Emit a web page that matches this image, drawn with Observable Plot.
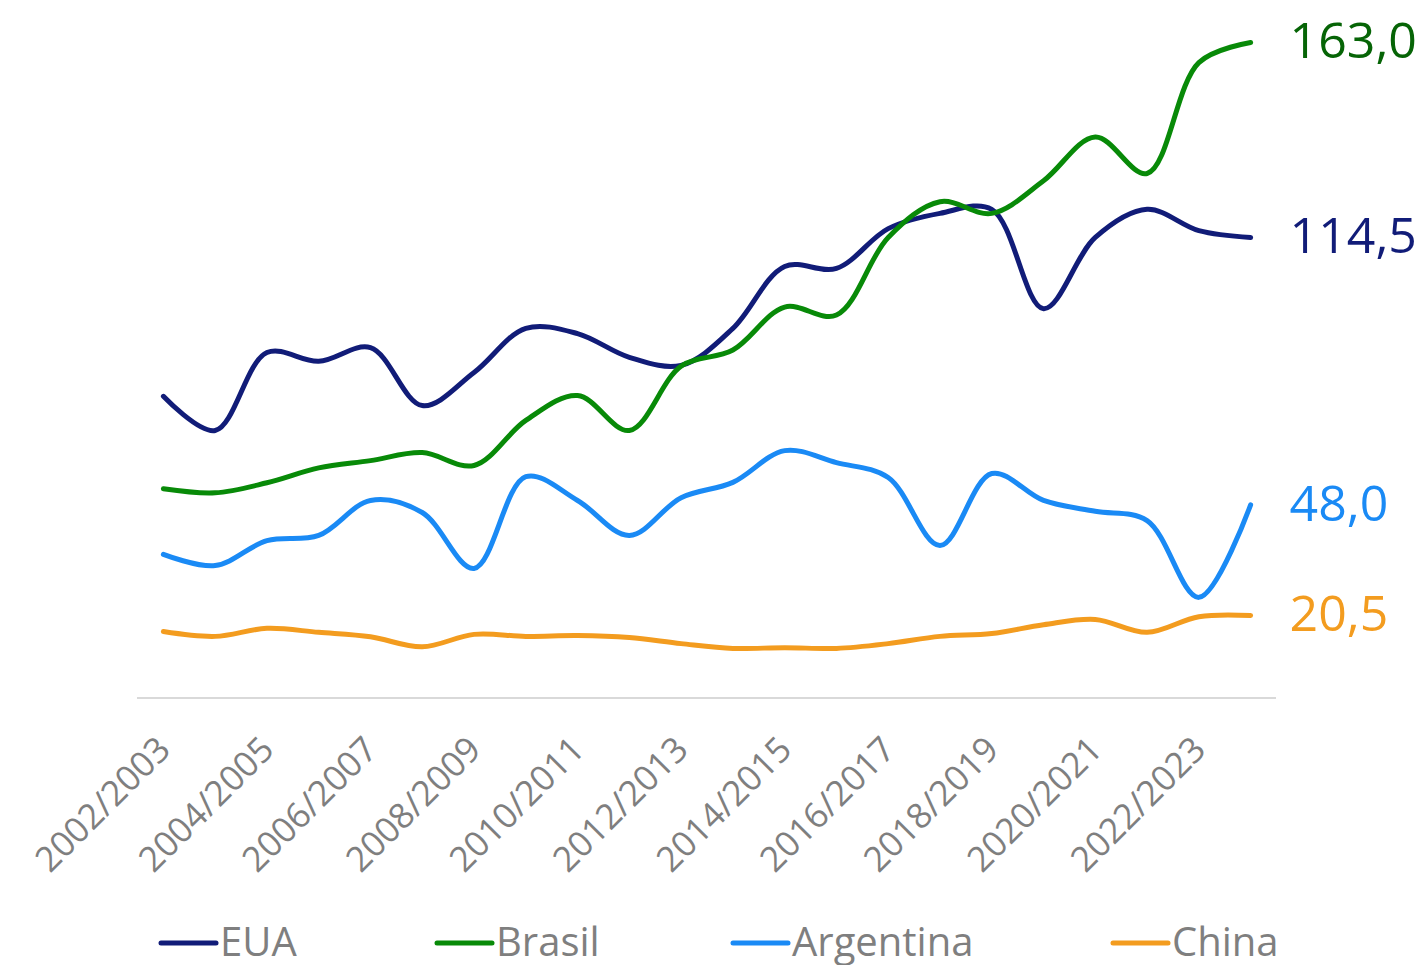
<!DOCTYPE html>
<html><head><meta charset="utf-8">
<script src="https://cdn.jsdelivr.net/npm/d3@7"></script>
<script src="https://cdn.jsdelivr.net/npm/@observablehq/plot@0.6"></script>
<style>
body{margin:0;background:#fff;font-family:'Open Sans',sans-serif}
#chart{width:1424px}
svg{display:block}
</style>
</head><body><div id="chart"></div><div id="legend"></div>
<script>
const seasons = ["2002/2003","2003/2004","2004/2005","2005/2006","2006/2007","2007/2008","2008/2009","2009/2010","2010/2011","2011/2012","2012/2013","2013/2014","2014/2015","2015/2016","2016/2017","2017/2018","2018/2019","2019/2020","2020/2021","2021/2022","2022/2023","2023/2024"];
const tickSeasons = ["2002/2003","2004/2005","2006/2007","2008/2009","2010/2011","2012/2013","2014/2015","2016/2017","2018/2019","2020/2021","2022/2023"];
const names = ["EUA","Brasil","Argentina","China"];
const eua = [75.0,66.5,85.9,83.7,87.1,72.7,80.9,91.9,90.6,84.7,82.7,91.9,107.3,106.8,116.7,120.5,121.5,96.8,114.5,121.5,116.2,114.5];
const brasil = [52.0,51.0,53.5,57.2,59.0,61.0,57.8,69.0,75.2,66.5,82.5,86.5,97.2,95.2,114.5,123.4,120.5,128.6,139.5,130.4,158.0,163.0];
const argentina = [35.7,32.9,39.1,40.4,49.1,46.1,32.2,55.0,49.1,40.4,49.8,53.6,61.5,58.5,54.8,37.9,55.8,49.1,46.4,44.1,25.0,48.0];
const china = [16.5,15.3,17.3,16.3,15.2,12.7,15.8,15.3,15.5,15.0,13.5,12.3,12.5,12.3,13.5,15.3,16.0,18.2,19.5,16.3,20.2,20.5];
const lineColors = ["#111c78","#088a08","#1a8af5","#f39c1f"];
const labelColors = ["#111c78","#066406","#1a8af5","#f39c1f"];

const valuesByName = {EUA: eua, Brasil: brasil, Argentina: argentina, China: china};
const rows = [];
names.forEach(n => valuesByName[n].forEach((v, i) => rows.push({season: seasons[i], value: v, name: n})));
const lastRows = names.map(n => ({season: seasons[seasons.length-1], value: valuesByName[n][seasons.length-1], name: n}));
const fmt = v => v.toFixed(1).replace(".", ",");

const plot = Plot.plot({
  width: 1424, height: 900,
  marginLeft: 137, marginRight: 148, marginTop: 13.8, marginBottom: 202.6,
  style: {fontFamily: "'Open Sans', sans-serif", background: "white", overflow: "visible"},
  x: {type: "point", domain: seasons, padding: 0.5, round: false},
  y: {domain: [0, 170], axis: null},
  color: {domain: names, range: lineColors},
  marks: [
    Plot.ruleY([0], {stroke: "#d9d9d9", strokeWidth: 2}),
    Plot.axisX({ticks: tickSeasons, tickRotate: -45, tickSize: 0, fontSize: 35, color: "#7f7f7f", dx: 1, dy: 34, label: null}),
    Plot.line(rows, {x: "season", y: "value", z: "name", stroke: "name", strokeWidth: 5, curve: "catmull-rom", strokeLinecap: "round"}),
    ...names.map((n, i) => Plot.text(lastRows.filter(d => d.name === n), {
      x: "season", y: "value", text: d => fmt(d.value), fill: labelColors[i],
      textAnchor: "start", dx: 39, fontSize: 50
    }))
  ]
});
document.getElementById("chart").appendChild(plot);

// legend
const legendX = [161, 437, 733, 1113];
const lg = d3.select("#legend").append("svg").attr("width", 1424).attr("height", 65)
  .style("font-family", "'Open Sans', sans-serif");
names.forEach((n, i) => {
  const g = lg.append("g").attr("transform", `translate(${legendX[i]},0)`);
  g.append("line").attr("x1", 0).attr("x2", 55).attr("y1", 43).attr("y2", 43)
    .attr("stroke", lineColors[i]).attr("stroke-width", 5).attr("stroke-linecap", "round");
  g.append("text").attr("x", 59).attr("y", 56).attr("fill", "#7f7f7f").attr("font-size", 40).text(n);
});
</script></body></html>
